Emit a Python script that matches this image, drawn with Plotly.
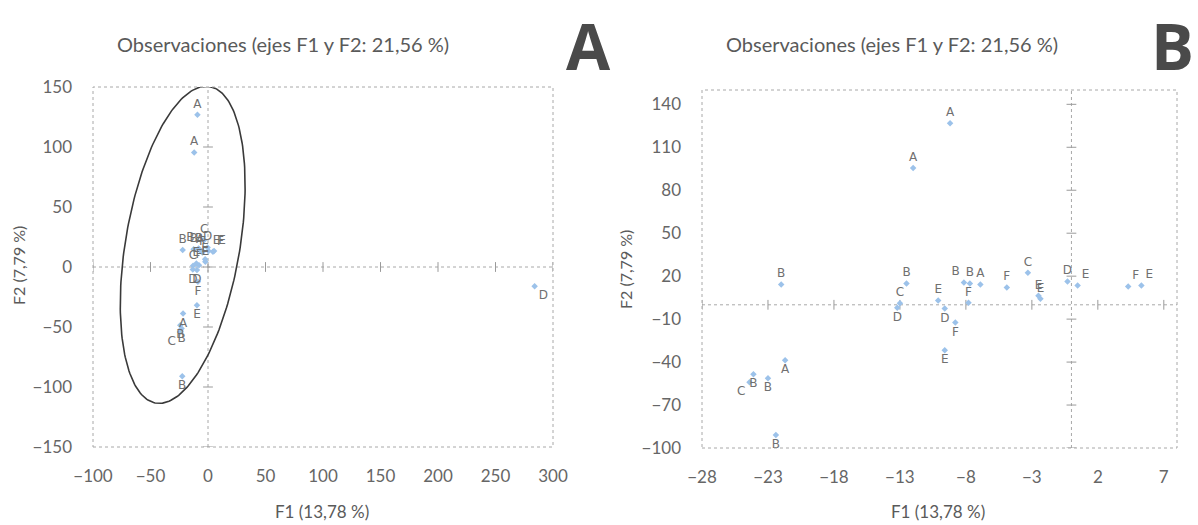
import numpy as np
import plotly.graph_objects as go

# ---- data ----
labels = ["A", "A", "B", "B", "C", "D", "E", "D", "F", "E",
          "B", "A", "B", "F", "F", "C", "E", "E", "D", "E",
          "F", "E", "A", "B", "B", "C", "B", "D"]
f1 = [-9.2, -12.0, -22.0, -12.5, -13.0, -13.2, -10.1, -9.6, -8.8, -9.6,
      -8.15, -6.9, -7.7, -7.8, -4.9, -3.3, -2.5, -2.35, -0.3, 0.47,
      4.3, 5.3, -21.7, -24.1, -23.0, -24.4, -22.4, 284.0]
f2 = [126.8, 95.5, 14.1, 14.8, 1.0, -2.0, 3.0, -2.6, -12.3, -31.8,
      15.5, 14.1, 14.8, 1.4, 12.0, 22.4, 6.4, 4.3, 16.2, 13.4,
      12.7, 13.4, -38.8, -48.5, -51.3, -54.1, -91.0, -16.0]
label_pos = ["top center", "top center", "top center", "top center", "top center",
             "bottom center", "top center", "bottom center", "bottom center", "bottom center",
             "top left", "top center", "top center", "top center", "top center",
             "top center", "top center", "top center", "top center", "top right",
             "top right", "top right", "bottom center", "bottom center", "bottom center",
             "bottom left", "bottom center", "bottom right"]

# axis ticks
a_xticks = [-100, -50, 0, 50, 100, 150, 200, 250, 300]
a_yticks = [-150, -100, -50, 0, 50, 100, 150]
b_xticks = [-28, -23, -18, -13, -8, -3, 2, 7]
b_yticks = [-100, -70, -40, -10, 20, 50, 80, 110, 140]
a_xrange = [-100, 300]
a_yrange = [-150, 150]
b_xrange = [-28, 8]
b_yrange = [-100, 150]

# confidence ellipse (panel A): centre and two half-axis vectors, in data units
ell_center = (-22.0, 18.5)
ell_u = (23.4, 131.9)
ell_v = (49.0, -8.0)

title_txt = "Observaciones (ejes F1 y F2: 21,56 %)"
xtitle = "F1 (13,78 %)"
ytitle = "F2 (7,79 %)"

# ---- figure ----
W, H = 1198, 525
MARK = "#9cc2ea"
LBL = "#707070"
TXT = "#5a5a5a"
FONT = "Lato"

fig = go.Figure()

def add_points(xa, ya, xr, yr):
    keep = [i for i in range(len(f1))
            if xr[0] <= f1[i] <= xr[1] and yr[0] <= f2[i] <= yr[1]]
    fig.add_trace(go.Scatter(
        x=[f1[i] for i in keep], y=[f2[i] for i in keep],
        mode="markers+text", text=[labels[i] for i in keep],
        textposition=[label_pos[i] for i in keep],
        marker=dict(symbol="diamond", size=5, color=MARK),
        textfont=dict(family="DejaVu Sans", size=12, color=LBL),
        xaxis=xa, yaxis=ya, hoverinfo="skip"))

def add_zero_ticks(xt, yt, xa, ya):
    fig.add_trace(go.Scatter(x=xt, y=[0] * len(xt), mode="markers",
                             marker=dict(symbol="line-ns", size=7,
                                         line=dict(color="#9a9a9a", width=1)),
                             xaxis=xa, yaxis=ya, hoverinfo="skip"))
    fig.add_trace(go.Scatter(x=[0] * len(yt), y=yt, mode="markers",
                             marker=dict(symbol="line-ew", size=7,
                                         line=dict(color="#9a9a9a", width=1)),
                             xaxis=xa, yaxis=ya, hoverinfo="skip"))

add_zero_ticks(a_xticks, a_yticks, "x", "y")
add_zero_ticks(b_xticks, b_yticks, "x2", "y2")
add_points("x", "y", a_xrange, a_yrange)
add_points("x2", "y2", b_xrange, b_yrange)

t = np.linspace(0, 2 * np.pi, 240)
ex = ell_center[0] + ell_u[0] * np.cos(t) + ell_v[0] * np.sin(t)
ey = ell_center[1] + ell_u[1] * np.cos(t) + ell_v[1] * np.sin(t)
fig.add_trace(go.Scatter(x=ex, y=ey, mode="lines",
                         line=dict(color="#3a3a3a", width=1.6),
                         xaxis="x", yaxis="y", hoverinfo="skip"))

def px(v):
    return v / W

def py(v):
    return 1 - v / H

axis_common = dict(showgrid=False, zeroline=False, showline=False, ticks="",
                   automargin=False,
                   tickfont=dict(family=FONT, size=17, color="#666666"))

fig.update_layout(
    width=W, height=H, margin=dict(l=0, r=0, t=0, b=0, autoexpand=False),
    paper_bgcolor="white", plot_bgcolor="white", showlegend=False,
    xaxis=dict(domain=[px(93), px(553)], range=a_xrange, tickvals=a_xticks,
               anchor="y", ticklabelstandoff=17, **axis_common),
    yaxis=dict(domain=[py(447), py(87)], range=a_yrange, tickvals=a_yticks,
               anchor="x", ticklabelstandoff=20, **axis_common),
    xaxis2=dict(domain=[px(702), px(1177)], range=b_xrange, tickvals=b_xticks,
                anchor="y2", ticklabelstandoff=17, **axis_common),
    yaxis2=dict(domain=[py(448), py(90)], range=b_yrange, tickvals=b_yticks,
                anchor="x2", ticklabelstandoff=20, **axis_common),
)

# plot-area borders and zero lines (dotted)
for xr, yr in (("x", "y"), ("x2", "y2")):
    fig.add_shape(type="rect", xref=f"{xr} domain", yref=f"{yr} domain",
                  x0=0, x1=1, y0=0, y1=1,
                  line=dict(color="#a8a8a8", width=1, dash="dot"))
    fig.add_shape(type="line", xref=f"{xr} domain", yref=yr, x0=0, x1=1, y0=0, y1=0,
                  line=dict(color="#a8a8a8", width=1, dash="dot"), layer="below")
    fig.add_shape(type="line", xref=xr, yref=f"{yr} domain", x0=0, x1=0, y0=0, y1=1,
                  line=dict(color="#a8a8a8", width=1, dash="dot"), layer="below")

ann = []
for cx in (283, 892):
    ann.append(dict(text=title_txt, x=px(cx), y=py(44), xref="paper", yref="paper",
                    showarrow=False, xanchor="center", yanchor="middle",
                    font=dict(family=FONT, size=20, color=TXT)))
for cx in (322, 938):
    ann.append(dict(text=xtitle, x=px(cx), y=py(511), xref="paper", yref="paper",
                    showarrow=False, xanchor="center", yanchor="middle",
                    font=dict(family=FONT, size=17, color=TXT)))
for cx, cy in ((18, 266), (625, 270)):
    ann.append(dict(text=ytitle, x=px(cx), y=py(cy), xref="paper", yref="paper",
                    showarrow=False, xanchor="center", yanchor="middle", textangle=-90,
                    font=dict(family=FONT, size=16, color=TXT)))
for letter, cx in (("A", 588), ("B", 1172)):
    ann.append(dict(text=f"<b>{letter}</b>", x=px(cx), y=1, xref="paper", yref="paper",
                    showarrow=False, xanchor="center", yanchor="top",
                    font=dict(family="Open Sans", size=64, color="#4a4a4a")))
fig.update_layout(annotations=ann)

fig.write_html("out.html", config={"displayModeBar": False},
               post_script="document.body.style.margin='0';document.body.style.overflow='hidden';")
